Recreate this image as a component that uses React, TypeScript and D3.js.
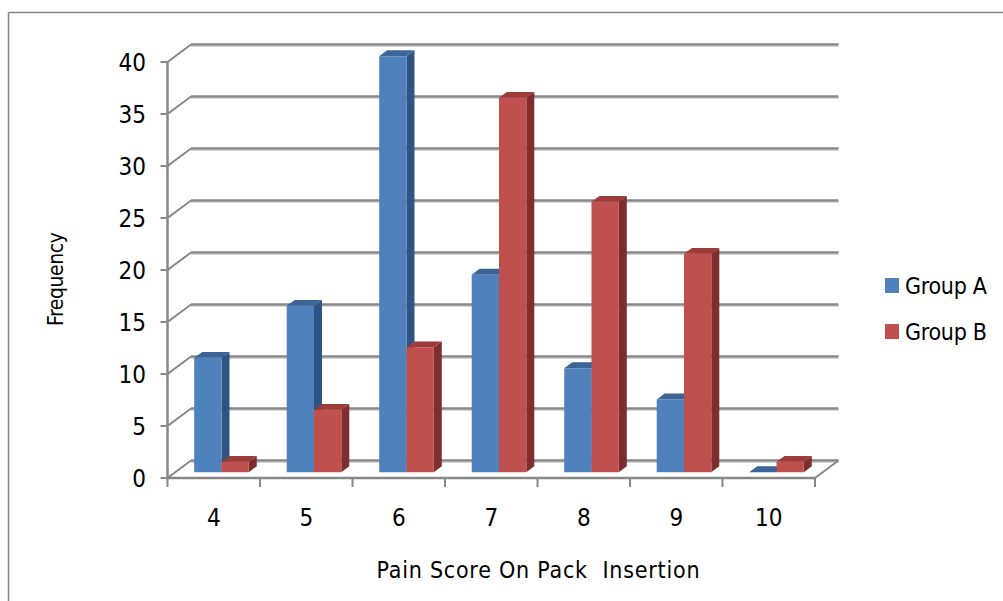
import React from "react";
import * as d3 from "d3";

const categories = ["4", "5", "6", "7", "8", "9", "10"];
const groupA = [11, 16, 40, 19, 10, 7, 0];
const groupB = [1, 6, 12, 36, 26, 21, 1];
const yTicks = [0, 5, 10, 15, 20, 25, 30, 35, 40];
const seriesNames = ["Group A", "Group B"];

const W = 1003;
const H = 601;
const X0 = 167.5;
const X1 = 815;
const Y0 = 478;
const YTOP = 62;
const DX = 23.5;
const DY = -17.5;
const F1 = 0.33;
const F2 = 0.67;
const BARW = 27.3;

const colors = [
  { front: "#4F81BD", side: "#2F5382", top: "#3C6497" },
  { front: "#C0504D", side: "#7E2F2D", top: "#9C3B38" },
];

const FONT = "'Liberation Sans Narrow', 'Arial Narrow', 'DejaVu Sans Condensed', sans-serif";

export default function App() {
  const y = d3.scaleLinear().domain([0, 40]).range([Y0, YTOP]);
  const x = d3.scaleBand<string>().domain(categories).range([X0, X1]).paddingInner(0).paddingOuter(0);
  const bw = x.bandwidth();
  const gridColor = "#878787";

  const bars: React.ReactNode[] = [];
  categories.forEach((c, i) => {
    const vals = [groupA[i], groupB[i]];
    const center = (x(c) as number) + bw / 2 + DX * F1;
    vals.forEach((v, s) => {
      const xl = center - BARW + s * BARW;
      const xr = xl + BARW;
      const yb = y(0) + DY * F1;
      const yt = y(v) + DY * F1;
      const ddx = DX * (F2 - F1);
      const ddy = DY * (F2 - F1);
      const col = colors[s];
      const path = (pts: [number, number][]) => d3.line()(pts) + "Z";
      bars.push(
        <g key={`${c}-${s}`}>
          {v > 0 && (
            <path
              d={path([
                [xr, yb],
                [xr + ddx, yb + ddy],
                [xr + ddx, yt + ddy],
                [xr, yt],
              ])}
              fill={col.side}
            />
          )}
          <path
            d={path([
              [xl, yt],
              [xl + ddx, yt + ddy],
              [xr + ddx, yt + ddy],
              [xr, yt],
            ])}
            fill={col.top}
          />
          {v > 0 && <rect x={xl} y={yt} width={BARW} height={yb - yt} fill={col.front} />}
        </g>
      );
    });
  });

  return (
    <svg
      width={W}
      height={H}
      style={{ position: "absolute", left: 0, top: 0, background: "#fff" }}
      fontFamily={FONT}
    >
      <rect x={0} y={0} width={W} height={H} fill="#fff" />
      {/* outer border */}
      <line x1={8.5} y1={12.5} x2={8.5} y2={H} stroke={gridColor} strokeWidth={1.5} />
      <line x1={8.5} y1={12.5} x2={W} y2={12.5} stroke={gridColor} strokeWidth={1.5} />

      {/* back wall gridlines */}
      {yTicks.map((t) => (
        <g key={`g${t}`}>
          <line x1={X0 + DX} x2={X1 + DX} y1={y(t) + DY + 2} y2={y(t) + DY + 2} stroke="#d6d6d6" strokeWidth={1.2} />
          <line x1={X0 + DX} x2={X1 + DX} y1={y(t) + DY} y2={y(t) + DY} stroke={gridColor} strokeWidth={2.5} />
          <line x1={X0} x2={X0 + DX} y1={y(t)} y2={y(t) + DY} stroke={gridColor} strokeWidth={2} />
          <line x1={X0 - 7} x2={X0} y1={y(t)} y2={y(t)} stroke={gridColor} strokeWidth={2} />
          <text x={146} y={y(t)} dy="0.36em" textAnchor="end" fontSize={24} fill="#000">
            {t}
          </text>
        </g>
      ))}
      {/* floor */}
      <line x1={X1} x2={X1 + DX} y1={Y0} y2={Y0 + DY} stroke={gridColor} strokeWidth={2} />
      <line x1={X0} x2={X0} y1={Y0} y2={YTOP} stroke={gridColor} strokeWidth={2.5} />

      {bars}

      <line x1={X0} x2={X1} y1={Y0} y2={Y0} stroke={gridColor} strokeWidth={2.5} />
      {d3.range(categories.length + 1).map((i) => {
        const xx = X0 + i * bw;
        return <line key={`xt${i}`} x1={xx} x2={xx} y1={Y0} y2={Y0 + 9} stroke={gridColor} strokeWidth={2} />;
      })}
      {categories.map((c) => (
        <text key={`xl${c}`} x={(x(c) as number) + bw / 2} y={526} textAnchor="middle" fontSize={24} fill="#000">
          {c}
        </text>
      ))}

      {/* axis titles */}
      <text
        x={538}
        y={578}
        textAnchor="middle"
        fontSize={23}
        fill="#000"
        textLength={323}
        lengthAdjust="spacing"
        style={{ whiteSpace: "pre" }}
      >
        {"Pain Score On Pack  Insertion"}
      </text>
      <text
        transform="translate(63,279) rotate(-90)"
        textAnchor="middle"
        fontSize={21}
        fill="#000"
        textLength={94}
        lengthAdjust="spacing"
      >
        Frequency
      </text>

      {/* legend */}
      {seriesNames.map((n, i) => (
        <g key={n} transform={`translate(885, ${278 + i * 46})`}>
          <rect x={0} y={0} width={14} height={15} fill={colors[i].front} />
          <text x={20} y={7.5} dy="0.36em" fontSize={23} fill="#000" textLength={82} lengthAdjust="spacing">
            {n}
          </text>
        </g>
      ))}
    </svg>
  );
}
